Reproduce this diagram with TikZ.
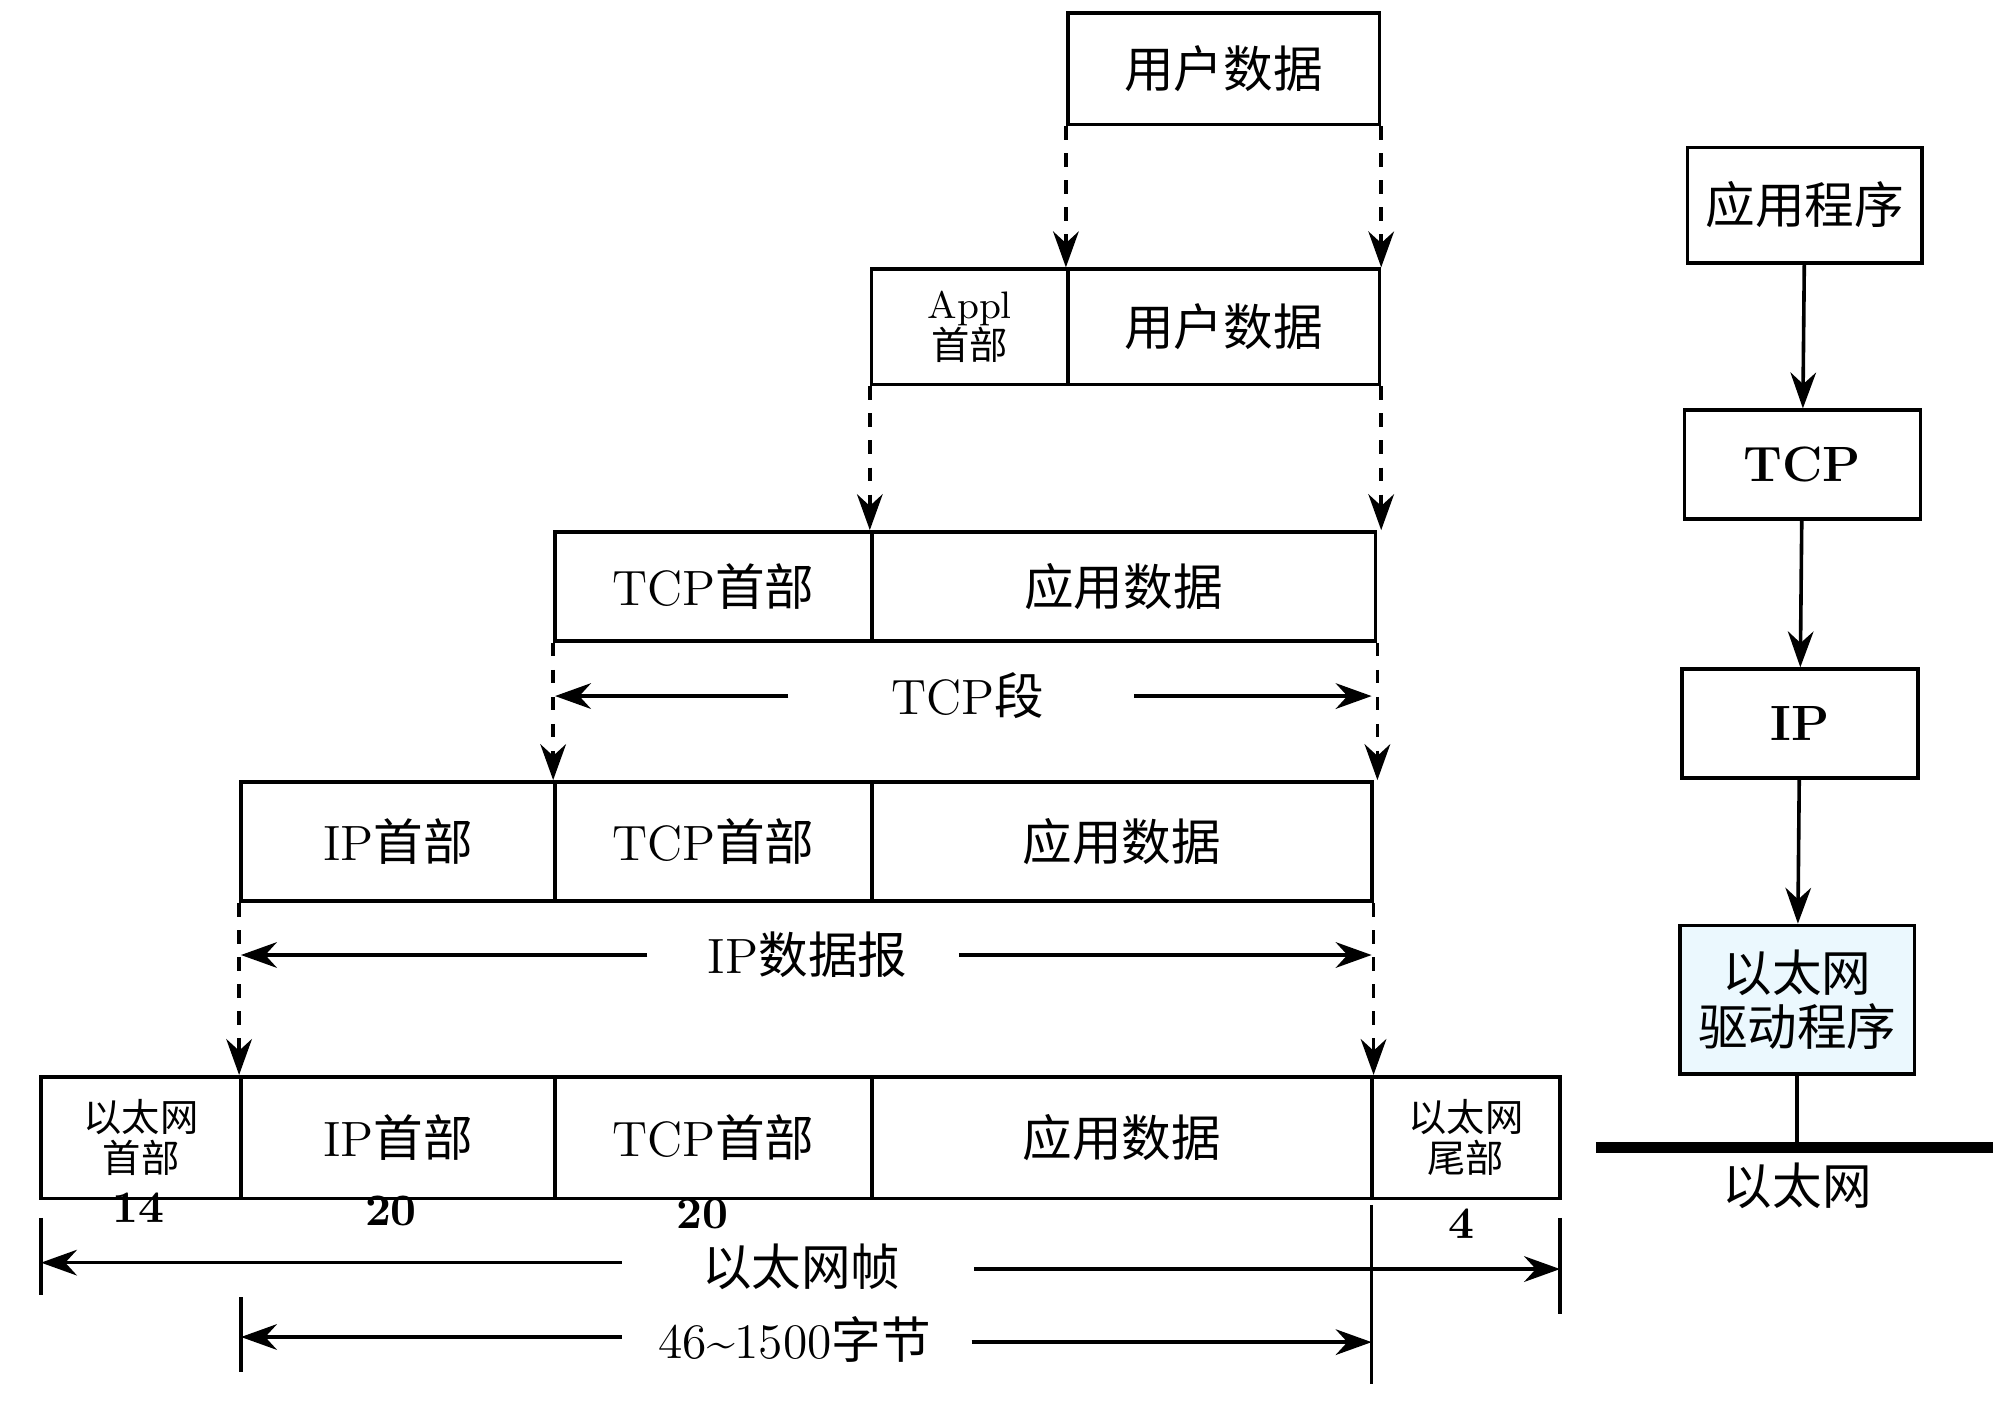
\documentclass[tikz,border=0pt]{standalone}
\usepackage{fontspec}
\usetikzlibrary{arrows.meta}
\newfontfamily\cjk{Noto Sans CJK SC}
\newcommand{\zh}[1]{{\cjk #1}}
\begin{document}
\begin{tikzpicture}[x=0.01cm, y=-0.01cm, >={Stealth[length=2.8mm,width=2mm]}, font=\fontsize{11}{12}\selectfont]
    \tikzset{
        cell/.style={draw, thick, rectangle, inner sep=0pt, align=center},
        small/.style={font=\fontsize{8.5}{9}\selectfont},
        encap/.style={thick, dashed, ->},
        dim/.style={thick, ->},
        num/.style={font=\bfseries\fontsize{10}{10}\selectfont}
    }
    \useasboundingbox (0,0) rectangle (1568,1100);
    % Row 1
    \node[cell, minimum width=2.43cm, minimum height=0.87cm] (user) at (954.5,53.5) {\zh{用户数据}};
    % Row 2
    \node[cell, minimum width=1.53cm, minimum height=0.9cm, small] (applh) at (756.5,255) {Appl\\\zh{首部}};
    \node[cell, minimum width=2.43cm, minimum height=0.9cm] (appld) at (954.5,255) {\zh{用户数据}};
    % Row 3
    \node[cell, minimum width=2.47cm, minimum height=0.85cm] (tcph) at (556.5,457.5) {TCP\zh{首部}};
    \node[cell, minimum width=3.93cm, minimum height=0.85cm] (tcpd) at (876.5,457.5) {\zh{应用数据}};
    % Row 4
    \node[cell, minimum width=2.45cm, minimum height=0.93cm] (iph) at (310.5,656.5) {IP\zh{首部}};
    \node[cell, minimum width=2.47cm, minimum height=0.93cm] (iptcp) at (556.5,656.5) {TCP\zh{首部}};
    \node[cell, minimum width=3.9cm, minimum height=0.93cm] (ipd) at (875,656.5) {\zh{应用数据}};
    % Row 5
    \node[cell, minimum width=1.56cm, minimum height=0.95cm, small] (eh) at (110,887.5) {\zh{以太网}\\\zh{首部}};
    \node[cell, minimum width=2.45cm, minimum height=0.95cm] (eip) at (310.5,887.5) {IP\zh{首部}};
    \node[cell, minimum width=2.47cm, minimum height=0.95cm] (etcp) at (556.5,887.5) {TCP\zh{首部}};
    \node[cell, minimum width=3.9cm, minimum height=0.95cm] (ed) at (875,887.5) {\zh{应用数据}};
    \node[cell, minimum width=1.47cm, minimum height=0.95cm, small] (et) at (1143.5,887.5) {\zh{以太网}\\\zh{尾部}};
    % Sizes
    \node[num] (n1) at (108,942) {14};
    \node[num] (n2) at (305,945) {20};
    \node[num] (n3) at (548,947) {20};
    \node[num] (n4) at (1140,955) {4};
    % Encapsulation
    \draw[encap] (user.south west) -- (user.south west |- appld.north);
    \draw[encap] (user.south east) -- (user.south east |- appld.north);
    \draw[encap] (applh.south west) -- (applh.south west |- tcph.north);
    \draw[encap] (appld.south east) -- (appld.south east |- tcpd.north);
    \draw[encap] (tcph.south west) -- (tcph.south west |- iph.north);
    \draw[encap] (tcpd.south east) -- (tcpd.south east |- ipd.north);
    \draw[encap] (iph.south west) -- (iph.south west |- eip.north);
    \draw[encap] (ipd.south east) -- (ipd.south east |- ed.north);
    % Lengths
    \node (seg) at (755,543) {TCP\zh{段}};
    \draw[dim] (615,543) -- (433,543);
    \draw[dim] (885,543) -- (1070,543);
    \node (dgram) at (630,745) {IP\zh{数据报}};
    \draw[dim] (505,745) -- (188,745);
    \draw[dim] (748,745) -- (1070,745);
    \node (frame) at (625,988) {\zh{以太网帧}};
    \draw[thick] (32,950) -- (32,1010);
    \draw[thick] (1217,950) -- (1217,1025);
    \draw[dim] (485,985) -- (32,985);
    \draw[dim] (760,990) -- (1217,990);
    \node (bytes) at (620,1045) {46\textasciitilde1500\zh{字节}};
    \draw[thick] (188,1012) -- (188,1070);
    \draw[thick] (1070,940) -- (1070,1080);
    \draw[dim] (485,1043) -- (188,1043);
    \draw[dim] (758,1047) -- (1070,1047);
    % Protocol stack
    \node[cell, minimum width=1.83cm, minimum height=0.9cm] (app) at (1408,160) {\zh{应用程序}};
    \node[cell, minimum width=1.84cm, minimum height=0.85cm, font=\bfseries\fontsize{11}{12}\selectfont] (tcp) at (1406,362.5) {TCP};
    \node[cell, minimum width=1.84cm, minimum height=0.85cm, font=\bfseries\fontsize{11}{12}\selectfont] (ip) at (1404,564.5) {IP};
    \node[cell, minimum width=1.83cm, minimum height=1.16cm, fill=cyan!8] (drv) at (1402,780) {\zh{以太网}\\\zh{驱动程序}};
    \draw[thick, ->] (app) -- (tcp);
    \draw[thick, ->] (tcp) -- (ip);
    \draw[thick, ->] (ip) -- (drv);
    \coordinate (bus) at (1402,895);
    \draw[thick] (drv) -- (bus);
    \draw[line width=2.5pt] (1245,895) -- (1555,895);
    \node (eth) at (1402,925) {\zh{以太网}};
\end{tikzpicture}
\end{document}
